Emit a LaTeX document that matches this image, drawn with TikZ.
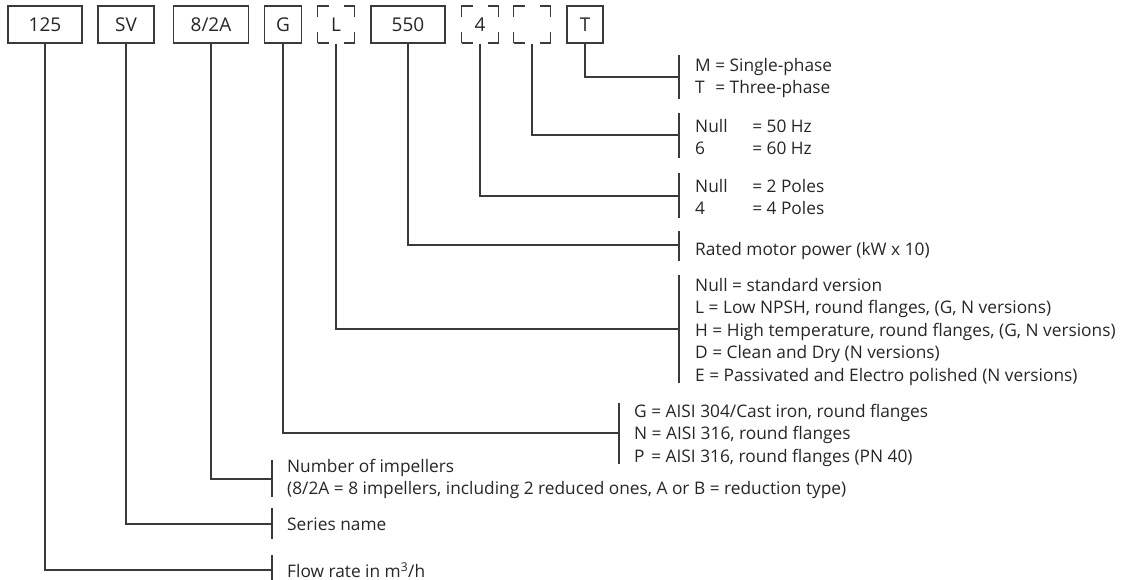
\documentclass[tikz,border=0pt]{standalone}
\usepackage{fontspec}
\setmainfont{Open Sans}
\definecolor{linec}{HTML}{3A3A3A}
\definecolor{txtc}{HTML}{262626}
\begin{document}
\begin{tikzpicture}[x=1pt,y=-1pt,
  ln/.style={draw=linec, line width=1.1pt},
  codebox/.style={draw=linec, line width=1.1pt, minimum height=37pt, inner sep=0pt,
    font=\fontsize{19}{22}\selectfont, text=txtc},
  dashbox/.style={draw=linec, line width=1.1pt, minimum height=37pt, minimum width=37pt,
    inner sep=0pt, dash pattern=on 22pt off 15pt, dash phase=11pt,
    font=\fontsize{19}{22}\selectfont, text=txtc},
  lbl/.style={anchor=west, inner sep=0pt, align=left,
    font=\fontsize{17.3}{22.5}\selectfont, text=txtc},
]
\useasboundingbox (0,0) rectangle (1125,580);

% code boxes
\node[codebox, minimum width=74pt] (b125) at (45,24.5) {125};
\node[codebox, minimum width=56pt] (bSV) at (126,24.5) {SV};
\node[codebox, minimum width=75pt] (bImp) at (211,24.5) {8/2A};
\node[codebox, minimum width=37pt] (bG) at (283,24.5) {G};
\node[dashbox] (bL) at (336,24.5) {L};
\node[codebox, minimum width=74pt] (b550) at (408,24.5) {550};
\node[dashbox] (b4) at (480,24.5) {4};
\node[dashbox] (bHz) at (532,24.5) {\phantom{0}};
\node[codebox, minimum width=36pt] (bT) at (585,24.5) {T};

% junction points on the brackets
\coordinate (jT) at (679,77);
\coordinate (jHz) at (679,135);
\coordinate (jP) at (679,196);
\coordinate (jR) at (679,245);
\coordinate (jL) at (679,329);
\coordinate (jG) at (619,433);
\coordinate (jI) at (272,479);
\coordinate (jS) at (272,524);
\coordinate (jF) at (272,570);

% brackets
\draw[ln] (679,55) -- (679,99);
\draw[ln] (679,113) -- (679,158);
\draw[ln] (679,173) -- (679,218);
\draw[ln] (679,231) -- (679,261);
\draw[ln] (679,275) -- (679,383);
\draw[ln] (619,403) -- (619,464);
\draw[ln] (272,460) -- (272,497);
\draw[ln] (272,508) -- (272,539);
\draw[ln] (272,555) -- (272,581);

% connectors
\draw[ln] (bT.south) |- (jT);
\draw[ln] (bHz.south) |- (jHz);
\draw[ln] (b4.south) |- (jP);
\draw[ln] (b550.south) |- (jR);
\draw[ln] (bL.south) |- (jL);
\draw[ln] (bG.south) |- (jG);
\draw[ln] (bImp.south) |- (jI);
\draw[ln] (bSV.south) |- (jS);
\draw[ln] (b125.south) |- (jF);

% labels
\node[lbl] (tT) at (695,78) {M = Single-phase\\\makebox[0pt][l]{T}\phantom{M} = Three-phase};
\node[lbl] (tHz) at (695,137) {\makebox[3.3em][l]{Null}= 50 Hz\\\makebox[3.3em][l]{6}= 60 Hz};
\node[lbl] (tP) at (695,197) {\makebox[3.3em][l]{Null}= 2 Poles\\\makebox[3.3em][l]{4}= 4 Poles};
\node[lbl] (tR) at (695,251) {Rated motor power (kW x 10)};
\node[lbl] (tL) at (695,332) {Null = standard version\\L = Low NPSH, round flanges, (G, N versions)\\H = High temperature, round flanges, (G, N versions)\\D = Clean and Dry (N versions)\\E = Passivated and Electro polished (N versions)};
\node[lbl] (tG) at (634,435) {G = AISI 304/Cast iron, round flanges\\N = AISI 316, round flanges\\\makebox[0pt][l]{P}\phantom{G} = AISI 316, round flanges (PN 40)};
\node[lbl] (tI) at (287,479) {Number of impellers\\(8/2A = 8 impellers, including 2 reduced ones, A or B = reduction type)};
\node[lbl] (tS) at (287,524) {Series name};
\node[lbl] (tF) at (287,570) {Flow rate in m\textsuperscript{3}/h};
\end{tikzpicture}
\end{document}
